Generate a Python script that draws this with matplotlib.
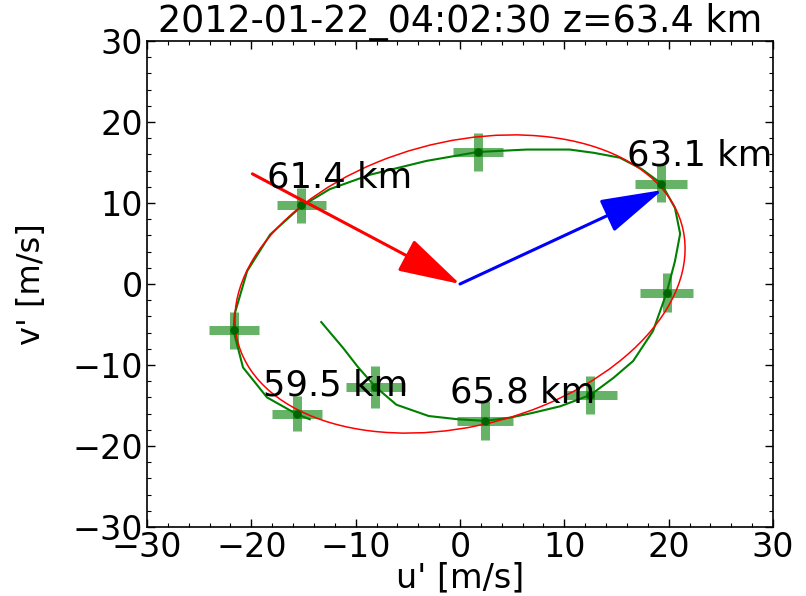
import matplotlib
matplotlib.use('Agg')
import matplotlib.pyplot as plt
from matplotlib.patches import Ellipse
from matplotlib.ticker import MultipleLocator

date_str = '2012-01-22_04:02:30'
z_km = 63.4

# hodograph samples (u', v') in m/s, ordered by decreasing altitude
u_obs = [-8.1, 2.4, 12.5, 19.8, 19.3, 1.7, -15.2, -21.7, -15.6]
v_obs = [-12.7, -16.9, -13.7, -1.1, 12.4, 16.3, 9.7, -5.7, -16.0]
u_err = [2.8, 2.7, 2.5, 2.55, 2.5, 2.4, 2.35, 2.4, 2.4]
v_err = [2.6, 2.4, 2.4, 2.4, 2.3, 2.4, 2.2, 2.3, 2.2]
alt_km = [66.7, 65.8, 64.9, 64.0, 63.1, 62.25, 61.4, 60.45, 59.5]
labelled = [1, 4, 6, 8]

# smoothed hodograph
u_fit = [-13.3, -11.2, -9.75, -8.1, -6.1, -3.0, -0.2, 2.4, 4.8, 7.0, 9.6,
         12.5, 14.7, 16.6, 18.5, 19.8, 20.6, 21.1, 20.6, 19.3, 17.4, 15.3,
         12.8, 10.5, 6.4, 1.7, -3.2, -8.6, -12.5, -15.2, -18.2, -20.4,
         -21.6, -21.7, -21.2, -20.8, -18.5, -15.6, -14.4]
v_fit = [-4.7, -7.9, -10.3, -12.7, -14.9, -16.3, -16.7, -16.9, -16.5, -15.9, -15.1,
         -13.7, -11.6, -9.5, -5.8, -1.1, 2.8, 6.2, 9.4, 12.4, 14.2, 15.6,
         16.2, 16.6, 16.6, 16.3, 15.2, 13.5, 11.7, 9.6, 6.1, 1.6,
         -3.7, -5.8, -8.3, -10.3, -14.0, -16.1, -16.7]

# fitted ellipse
ell_center = (0.0, 0.0)
ell_a = 22.7
ell_b = 17.0
ell_angle = 28.0

# arrows (tail, head)
red_tail, red_head = (-19.9, 13.6), (0.0, 0.0)
blue_tail, blue_head = (0.0, 0.0), (19.4, 11.6)

plt.rcParams['font.size'] = 24

fig = plt.figure(figsize=(8.06, 5.96), dpi=100)
ax = fig.add_axes([147 / 806, 69 / 596, 626 / 806, 486 / 596])

ax.errorbar(u_obs, v_obs, xerr=u_err, yerr=v_err, fmt='none',
            ecolor='green', elinewidth=6.5, alpha=0.6, capsize=0, zorder=2)
ax.plot(u_obs, v_obs, 'o', color='darkgreen', ms=5, zorder=4)
ax.plot(u_fit, v_fit, '-', color='green', lw=1.5, zorder=3)

ell = Ellipse(ell_center, 2 * ell_a, 2 * ell_b, angle=ell_angle,
              fill=False, edgecolor='red', lw=1.1, zorder=3)
ax.add_patch(ell)

arrow_style = '-|>,head_length=3.9,head_width=1.1'
ax.annotate('', xy=red_head, xytext=red_tail,
            arrowprops=dict(arrowstyle=arrow_style, mutation_scale=10,
                            lw=2.2, color='red', shrinkA=0, shrinkB=0),
            zorder=5)
ax.annotate('', xy=blue_head, xytext=blue_tail,
            arrowprops=dict(arrowstyle=arrow_style, mutation_scale=10,
                            lw=2.2, color='blue', shrinkA=0, shrinkB=0),
            zorder=5)

for i in labelled:
    ax.annotate('%.1f km' % alt_km[i], xy=(u_obs[i], v_obs[i]),
                xytext=(-25, 13), textcoords='offset points',
                fontsize=25.5, zorder=6)

ax.set_xlim(-30, 30)
ax.set_ylim(-30, 30)
ax.xaxis.set_major_locator(MultipleLocator(10))
ax.yaxis.set_major_locator(MultipleLocator(10))
ax.xaxis.set_minor_locator(MultipleLocator(2))
ax.yaxis.set_minor_locator(MultipleLocator(2))
ax.tick_params(which='both', direction='in', top=True, right=True)
ax.tick_params(which='major', length=6, width=1, pad=3)
ax.tick_params(which='minor', length=3, width=0.8)
for sp in ax.spines.values():
    sp.set_linewidth(1.2)

ax.set_xlabel("u' [m/s]", fontsize=24)
ax.xaxis.set_label_coords(0.5, -0.07)
ax.set_ylabel("v' [m/s]", fontsize=23)
ax.yaxis.set_label_coords(-0.16, 0.5)
ax.set_title('%s z=%.1f km' % (date_str, z_km), fontsize=26.3, pad=1)

fig.savefig('out.png', dpi=100)
